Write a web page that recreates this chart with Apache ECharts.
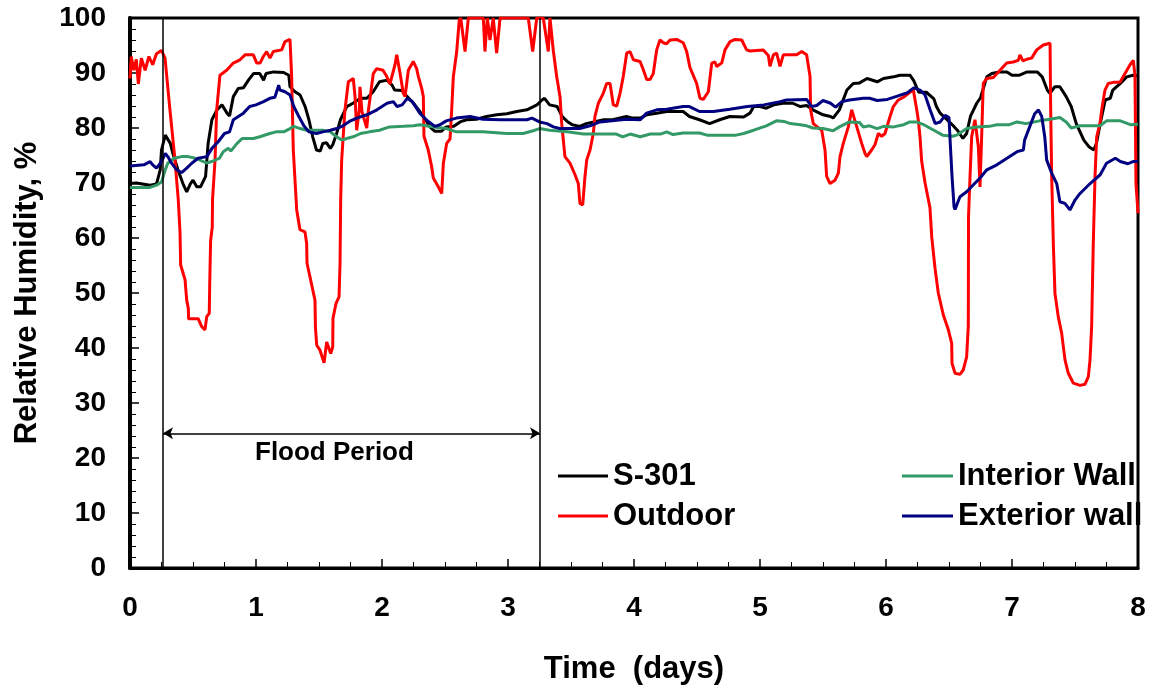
<!DOCTYPE html>
<html>
<head>
<meta charset="utf-8">
<script src="https://cdn.jsdelivr.net/npm/echarts@6/dist/echarts.min.js"></script>
<style>
  html, body { margin: 0; padding: 0; background: #fff; }
  #main { width: 1154px; height: 693px; }
</style>
</head>
<body>
<div id="main"></div>
<script>
// [day, RH %]
const s301 = [[0,69.9],[0.05,70],[0.16,69.6],[0.21,69.8],[0.24,72.4],[0.25,76],[0.28,78.7],[0.29,79],[0.32,77.2],[0.34,75.4],[0.38,72.4],[0.42,69.9],[0.45,68.4],[0.48,69.9],[0.5,70.5],[0.53,69.3],[0.56,69.3],[0.6,71.2],[0.62,77.2],[0.65,81.5],[0.69,83.3],[0.73,84.2],[0.77,82.7],[0.79,82.2],[0.82,85.7],[0.86,87.2],[0.9,87.3],[0.94,88.7],[0.98,89.9],[1.03,89.9],[1.06,88.7],[1.08,89.9],[1.14,90.2],[1.22,90.1],[1.26,89.6],[1.27,87.5],[1.31,86.6],[1.35,86],[1.39,83.9],[1.42,81.5],[1.45,78.4],[1.48,76],[1.51,75.8],[1.53,77.2],[1.56,77.3],[1.59,76.3],[1.61,77],[1.64,79],[1.67,81.5],[1.72,83.9],[1.77,84.5],[1.83,85.4],[1.88,85.4],[1.93,86.6],[1.98,88.4],[2.04,88.7],[2.08,87.8],[2.1,86.9],[2.16,86.8],[2.2,85.7],[2.25,84.5],[2.33,82.1],[2.38,80.2],[2.42,79.4],[2.47,79.4],[2.51,80.2],[2.57,80.3],[2.62,81.1],[2.67,81.5],[2.75,81.6],[2.83,82.1],[2.91,82.4],[2.99,82.6],[3.07,83],[3.15,83.3],[3.23,84.2],[3.27,85.1],[3.29,85.4],[3.33,84.2],[3.39,83.9],[3.43,82.1],[3.47,81.2],[3.51,80.6],[3.57,80.3],[3.62,80.8],[3.76,81.5],[3.83,81.5],[3.94,82.1],[3.99,81.8],[4.05,81.8],[4.1,82.4],[4.18,82.7],[4.26,83],[4.39,83],[4.44,82.1],[4.52,81.5],[4.6,80.8],[4.68,81.5],[4.76,82.1],[4.87,82],[4.92,82.7],[4.95,83.9],[5,83.9],[5.05,83.6],[5.11,84.2],[5.18,84.5],[5.26,84.5],[5.32,83.9],[5.37,84.1],[5.42,83.3],[5.5,82.4],[5.56,82.1],[5.58,81.8],[5.63,83.3],[5.69,86.9],[5.74,88.1],[5.79,88.2],[5.85,89],[5.93,88.4],[5.98,89],[6.06,89.3],[6.11,89.6],[6.19,89.6],[6.22,88.6],[6.26,86.5],[6.32,86.5],[6.38,85.3],[6.4,83.9],[6.43,82.7],[6.48,81.6],[6.53,80.5],[6.57,79.5],[6.61,78.1],[6.64,79],[6.67,82.1],[6.72,84.5],[6.75,85.5],[6.8,89.3],[6.84,89.9],[6.9,90.2],[6.96,90.2],[7,89.6],[7.06,89.6],[7.12,90.2],[7.2,90.2],[7.24,89.3],[7.28,86.9],[7.3,86.3],[7.34,87.5],[7.38,87.5],[7.43,85.7],[7.47,83.9],[7.51,80.8],[7.57,77.8],[7.61,76.6],[7.65,76],[7.67,77.2],[7.7,80.8],[7.74,85.1],[7.78,85.4],[7.8,86.9],[7.86,88.1],[7.91,89.3],[7.96,89.6],[8,89.5]];

const outdoor = [[0,89],[0.01,93],[0.03,90.5],[0.05,92.5],[0.066,88],[0.09,92.7],[0.12,90.5],[0.15,93],[0.18,91.5],[0.21,93.5],[0.25,94.1],[0.278,92.7],[0.317,83.3],[0.357,74.2],[0.383,67],[0.397,61],[0.402,55.1],[0.437,52.4],[0.45,48.7],[0.463,47.2],[0.465,45.3],[0.542,45.3],[0.569,43.9],[0.595,43.3],[0.609,45.7],[0.629,46.3],[0.633,52],[0.64,59.6],[0.653,62],[0.655,67],[0.675,74.2],[0.688,83.3],[0.714,89.6],[0.767,90.5],[0.82,91.8],[0.873,92.4],[0.913,93.3],[0.979,93.3],[1.006,91.8],[1.032,91.8],[1.058,93],[1.085,93.9],[1.111,92.7],[1.137,93.9],[1.204,94.2],[1.23,95.7],[1.27,96.1],[1.283,89.3],[1.296,76],[1.323,65.1],[1.349,61.5],[1.389,61.1],[1.402,59],[1.405,55.4],[1.468,48.7],[1.472,43.6],[1.482,40.5],[1.508,39.6],[1.54,37.3],[1.561,41.1],[1.593,39],[1.609,40.2],[1.611,45.4],[1.635,48.1],[1.659,49.3],[1.667,55.4],[1.672,66.9],[1.68,74.2],[1.706,83.3],[1.733,88.4],[1.772,89],[1.786,85.7],[1.799,79.6],[1.82,83.3],[1.825,87.5],[1.841,83],[1.879,80],[1.891,83],[1.931,89.9],[1.958,90.8],[2.008,90.5],[2.037,89.4],[2.063,88],[2.103,91.5],[2.117,93.3],[2.143,90],[2.169,86.3],[2.183,85.7],[2.209,90.5],[2.248,92.1],[2.275,90.8],[2.288,89.4],[2.315,87.2],[2.328,85.7],[2.333,78.5],[2.367,76],[2.394,73],[2.407,70.9],[2.447,69.3],[2.474,68.1],[2.487,73.6],[2.513,77.2],[2.54,78],[2.553,83.3],[2.566,89.3],[2.593,93.9],[2.613,99.6],[2.625,100],[2.659,93.9],[2.685,100],[2.804,100],[2.817,93.9],[2.836,100],[2.857,96],[2.883,100],[2.91,93.6],[2.937,100],[3.161,100],[3.196,93.9],[3.228,100],[3.28,100],[3.32,93.9],[3.333,100],[3.36,94],[3.386,89.4],[3.413,85.7],[3.426,80.9],[3.452,74.8],[3.492,73.6],[3.532,71.5],[3.558,69.9],[3.571,66.3],[3.593,66],[3.611,71.2],[3.625,74.2],[3.651,76],[3.677,79],[3.69,82.1],[3.717,84.5],[3.756,86.3],[3.783,88.1],[3.81,88.1],[3.836,84.2],[3.863,84],[3.889,86.3],[3.915,89.4],[3.942,93.6],[3.968,93.9],[3.995,92.4],[4.048,92.1],[4.074,90.6],[4.101,88.8],[4.127,88.8],[4.153,89.9],[4.18,94.2],[4.206,96],[4.233,95.5],[4.259,95.3],[4.286,96],[4.339,96.1],[4.391,95.5],[4.418,93.9],[4.444,91],[4.497,88.1],[4.524,85.4],[4.55,85.2],[4.59,86.6],[4.617,91.8],[4.643,92],[4.656,91.2],[4.696,91.8],[4.722,94.2],[4.762,95.7],[4.802,96.1],[4.855,96],[4.894,94.2],[4.921,94],[5.026,94.2],[5.066,93.2],[5.079,91.2],[5.106,93.3],[5.132,93.6],[5.159,91.2],[5.185,93.3],[5.291,93.3],[5.331,93.9],[5.37,93.3],[5.397,89.4],[5.402,83.3],[5.423,80.8],[5.45,80.3],[5.49,79.6],[5.516,76],[5.529,71.2],[5.556,69.9],[5.595,70.5],[5.622,71.8],[5.635,74.8],[5.661,77.2],[5.701,80.2],[5.728,83.3],[5.741,83],[5.767,80.3],[5.807,77.2],[5.833,75.4],[5.847,74.8],[5.886,76],[5.913,77],[5.939,79],[5.966,78.5],[5.992,79],[6.032,82.1],[6.058,83.9],[6.098,85.1],[6.138,85.6],[6.19,86.5],[6.217,86.9],[6.244,83.3],[6.256,81.5],[6.27,78.4],[6.283,74],[6.31,70],[6.349,65.5],[6.363,60.2],[6.389,54.5],[6.415,50],[6.455,46],[6.495,43.3],[6.521,40.9],[6.524,37.2],[6.548,35.4],[6.587,35.2],[6.613,36],[6.64,38.4],[6.653,43.9],[6.655,63.9],[6.667,71.2],[6.68,78.4],[6.706,81.5],[6.72,81.8],[6.733,76.6],[6.746,69.3],[6.759,78.4],[6.772,88.1],[6.799,89],[6.852,89.2],[6.905,90.5],[6.958,91.8],[7.01,92],[7.05,92.3],[7.063,93.3],[7.087,92.2],[7.117,92.5],[7.156,92.7],[7.196,94.2],[7.248,95.1],[7.302,95.4],[7.307,83.3],[7.315,71.2],[7.328,59],[7.341,49.9],[7.367,45.7],[7.394,42.7],[7.421,37.8],[7.447,35.4],[7.487,33.6],[7.54,33.2],[7.579,33.4],[7.606,34.8],[7.619,37.8],[7.632,43.9],[7.645,59],[7.659,71.2],[7.672,78.4],[7.698,80.8],[7.712,83.3],[7.738,86.9],[7.764,88.1],[7.804,88.3],[7.857,88.3],[7.897,89.9],[7.937,91.5],[7.963,92.3],[7.976,89.5],[7.984,69.9],[7.992,70],[8,64.5]];

const interiorWall = [[0,69.2],[0.16,69.2],[0.21,69.6],[0.25,70.2],[0.28,72.4],[0.3,73.6],[0.35,74.5],[0.41,74.8],[0.46,74.8],[0.52,74.5],[0.57,74],[0.61,73.6],[0.66,74],[0.71,74.5],[0.74,75.7],[0.78,76.3],[0.8,75.8],[0.85,77.2],[0.89,78.1],[0.98,78.1],[1.03,78.4],[1.11,79],[1.16,79.3],[1.22,79.3],[1.27,79.9],[1.3,80.3],[1.35,79.9],[1.4,79.6],[1.53,79.6],[1.59,79.3],[1.64,78.4],[1.68,77.8],[1.72,78.1],[1.77,78.4],[1.83,79],[1.9,79.3],[1.98,79.6],[2.06,80.2],[2.17,80.3],[2.25,80.4],[2.3,80.6],[2.41,80.2],[2.51,79.9],[2.59,79.3],[2.8,79.3],[2.99,79],[3.12,79],[3.2,79.5],[3.25,79.9],[3.33,79.6],[3.47,79.3],[3.6,78.9],[3.86,78.9],[3.91,78.4],[3.97,78.9],[4.05,78.4],[4.13,78.9],[4.21,78.9],[4.26,79.3],[4.31,78.8],[4.39,79.1],[4.52,79.1],[4.58,78.7],[4.81,78.7],[4.87,79],[4.95,79.6],[5.05,80.4],[5.13,81.3],[5.19,81.2],[5.24,80.8],[5.32,80.6],[5.37,80.4],[5.42,80],[5.5,79.9],[5.58,79.5],[5.63,80.2],[5.71,81.1],[5.79,81],[5.82,80.2],[5.87,80.4],[5.93,79.9],[5.98,80.3],[6.06,80.2],[6.14,80.6],[6.19,81.1],[6.24,81.1],[6.3,80.6],[6.38,79.6],[6.45,78.7],[6.53,78.5],[6.56,78.7],[6.64,79.9],[6.72,80.2],[6.82,80.3],[6.88,80.6],[6.98,80.6],[7.04,81.1],[7.11,80.8],[7.22,81.3],[7.3,81.6],[7.38,81.9],[7.43,81.1],[7.47,80],[7.54,80.4],[7.7,80.4],[7.75,81.3],[7.86,81.3],[7.94,80.6],[8,80.7]];

const exteriorWall = [[0,73.1],[0.11,73.3],[0.16,73.9],[0.18,73.3],[0.21,72.7],[0.25,73.9],[0.28,75.4],[0.3,74.8],[0.33,73.6],[0.37,72.4],[0.41,71.9],[0.45,72.7],[0.49,73.6],[0.54,74.5],[0.61,74.8],[0.65,76.3],[0.7,77.5],[0.75,79],[0.79,79.3],[0.82,81.5],[0.86,82.1],[0.9,82.7],[0.95,83.9],[1,84.2],[1.06,84.8],[1.11,85.4],[1.15,85.6],[1.18,87.8],[1.19,86.9],[1.23,86.6],[1.27,86],[1.3,83.9],[1.34,82.1],[1.38,80.4],[1.42,79.3],[1.48,79],[1.53,79.3],[1.59,79.6],[1.64,79.9],[1.69,80.4],[1.75,81.3],[1.8,81.8],[1.88,82.4],[1.96,83.3],[2.04,84.5],[2.09,84.8],[2.12,83.9],[2.16,84.2],[2.2,85.4],[2.24,84.8],[2.25,84.5],[2.3,82.7],[2.35,81.5],[2.42,80.3],[2.46,80.6],[2.51,81.3],[2.59,81.8],[2.7,82.1],[2.8,81.6],[2.94,81.5],[3.15,81.5],[3.19,81.8],[3.25,81.1],[3.31,80.8],[3.36,80.2],[3.41,79.9],[3.57,79.9],[3.65,80.4],[3.73,81.1],[3.94,81.6],[4.05,81.5],[4.1,82.7],[4.18,83.3],[4.26,83.4],[4.39,83.9],[4.44,83.9],[4.52,83],[4.63,83],[4.76,83.4],[4.9,83.9],[5.03,84.2],[5.16,84.8],[5.21,85.1],[5.37,85.2],[5.41,83.9],[5.45,84.1],[5.5,85],[5.56,84.5],[5.6,83.8],[5.65,84.8],[5.71,85.1],[5.82,85.4],[5.87,85.4],[5.93,85],[6.01,85.2],[6.09,85.8],[6.17,86.4],[6.22,87.3],[6.27,86.9],[6.31,86],[6.35,83.3],[6.39,80.8],[6.43,81.1],[6.47,82.3],[6.5,81.9],[6.51,77.2],[6.524,71.2],[6.54,65.7],[6.548,65.2],[6.587,67.5],[6.64,68.4],[6.69,69.6],[6.75,71],[6.8,72.4],[6.88,73.3],[6.96,74.5],[7.04,75.7],[7.09,76],[7.1,77.8],[7.14,80.2],[7.18,82.6],[7.21,83.3],[7.236,82.1],[7.26,78.4],[7.275,74.2],[7.315,71.8],[7.355,69.9],[7.38,66.6],[7.42,66.3],[7.46,65.1],[7.5,66.9],[7.54,68.1],[7.62,69.9],[7.7,71.5],[7.75,73.6],[7.82,74.5],[7.86,73.9],[7.92,73.5],[7.96,73.9],[8,73.9]];

// flood period markers
const floodStart = 0.262;
const floodEnd = 3.254;
const arrowLevel = 24.5;

const FONT = "'Liberation Sans', Arial, sans-serif";

let myChart = echarts.init(document.getElementById('main'));

const legendText = { fontSize: 31, fontWeight: 'bold', color: '#000', fontFamily: FONT, lineHeight: 32 };

const option = {
  animation: false,
  backgroundColor: '#fff',
  textStyle: { fontFamily: FONT },
  grid: {
    left: 130, right: 16, top: 18, bottom: 125,
    show: true, borderColor: '#000', borderWidth: 3
  },
  legend: [
    {
      data: ['S-301', 'Outdoor'],
      orient: 'vertical', left: 553, top: 455,
      icon: 'rect', itemWidth: 50, itemHeight: 3, itemGap: 8,
      selectedMode: false,
      textStyle: legendText
    },
    {
      data: ['Interior Wall', 'Exterior wall'],
      orient: 'vertical', left: 897, top: 455,
      icon: 'rect', itemWidth: 51, itemHeight: 3, itemGap: 8,
      selectedMode: false,
      textStyle: legendText
    }
  ],
  xAxis: {
    type: 'value', min: 0, max: 8, interval: 1,
    name: 'Time  (days)', nameLocation: 'middle', nameGap: 86,
    nameTextStyle: { fontSize: 31, fontWeight: 'bold', color: '#000', fontFamily: FONT },
    axisLine: { lineStyle: { color: '#000', width: 3 } },
    axisTick: { inside: true, length: 9, lineStyle: { color: '#000', width: 1.5 } },
    minorTick: { show: true, splitNumber: 4, length: 6, lineStyle: { color: '#000', width: 1 } },
    axisLabel: { fontSize: 28, fontWeight: 'bold', color: '#000', margin: 26, fontFamily: FONT },
    splitLine: { show: false }
  },
  yAxis: {
    type: 'value', min: 0, max: 100, interval: 10,
    name: 'Relative Humidity, %', nameLocation: 'middle', nameGap: 87,
    nameTextStyle: { fontSize: 31, fontWeight: 'bold', color: '#000', fontFamily: FONT },
    axisLine: { lineStyle: { color: '#000', width: 4 } },
    axisTick: { inside: true, length: 9, lineStyle: { color: '#000', width: 1.5 } },
    minorTick: { show: true, splitNumber: 5, length: 6, lineStyle: { color: '#000', width: 1 } },
    axisLabel: { fontSize: 28, fontWeight: 'bold', color: '#000', margin: 24, fontFamily: FONT },
    splitLine: { show: false }
  },
  graphic: [
    {
      type: 'text', left: 255, top: 440, silent: true,
      style: { text: 'Flood Period', fontSize: 26, fontWeight: 'bold', fill: '#000', fontFamily: FONT }
    }
  ],
  series: [
    {
      name: 'S-301', type: 'line', data: s301, showSymbol: false, symbol: 'none',
      lineStyle: { color: '#000', width: 3 }, itemStyle: { color: '#000' },
      markLine: {
        silent: true, symbol: 'none', label: { show: false },
        lineStyle: { color: '#000', width: 1.5, type: 'solid' },
        data: [{ xAxis: floodStart }, { xAxis: floodEnd }]
      }
    },
    {
      name: 'Outdoor', type: 'line', data: outdoor, showSymbol: false, symbol: 'none',
      lineStyle: { color: '#ff0000', width: 3 }, itemStyle: { color: '#ff0000' },
      markLine: {
        silent: true, symbol: ['arrow', 'arrow'], symbolSize: [9, 10], label: { show: false },
        lineStyle: { color: '#000', width: 1.5, type: 'solid' },
        data: [[{ coord: [floodStart, arrowLevel] }, { coord: [floodEnd, arrowLevel] }]]
      }
    },
    {
      name: 'Interior Wall', type: 'line', data: interiorWall, showSymbol: false, symbol: 'none',
      lineStyle: { color: '#339966', width: 3 }, itemStyle: { color: '#339966' }
    },
    {
      name: 'Exterior wall', type: 'line', data: exteriorWall, showSymbol: false, symbol: 'none',
      lineStyle: { color: '#000080', width: 3 }, itemStyle: { color: '#000080' }
    }
  ]
};

myChart.setOption(option);
</script>
</body>
</html>
